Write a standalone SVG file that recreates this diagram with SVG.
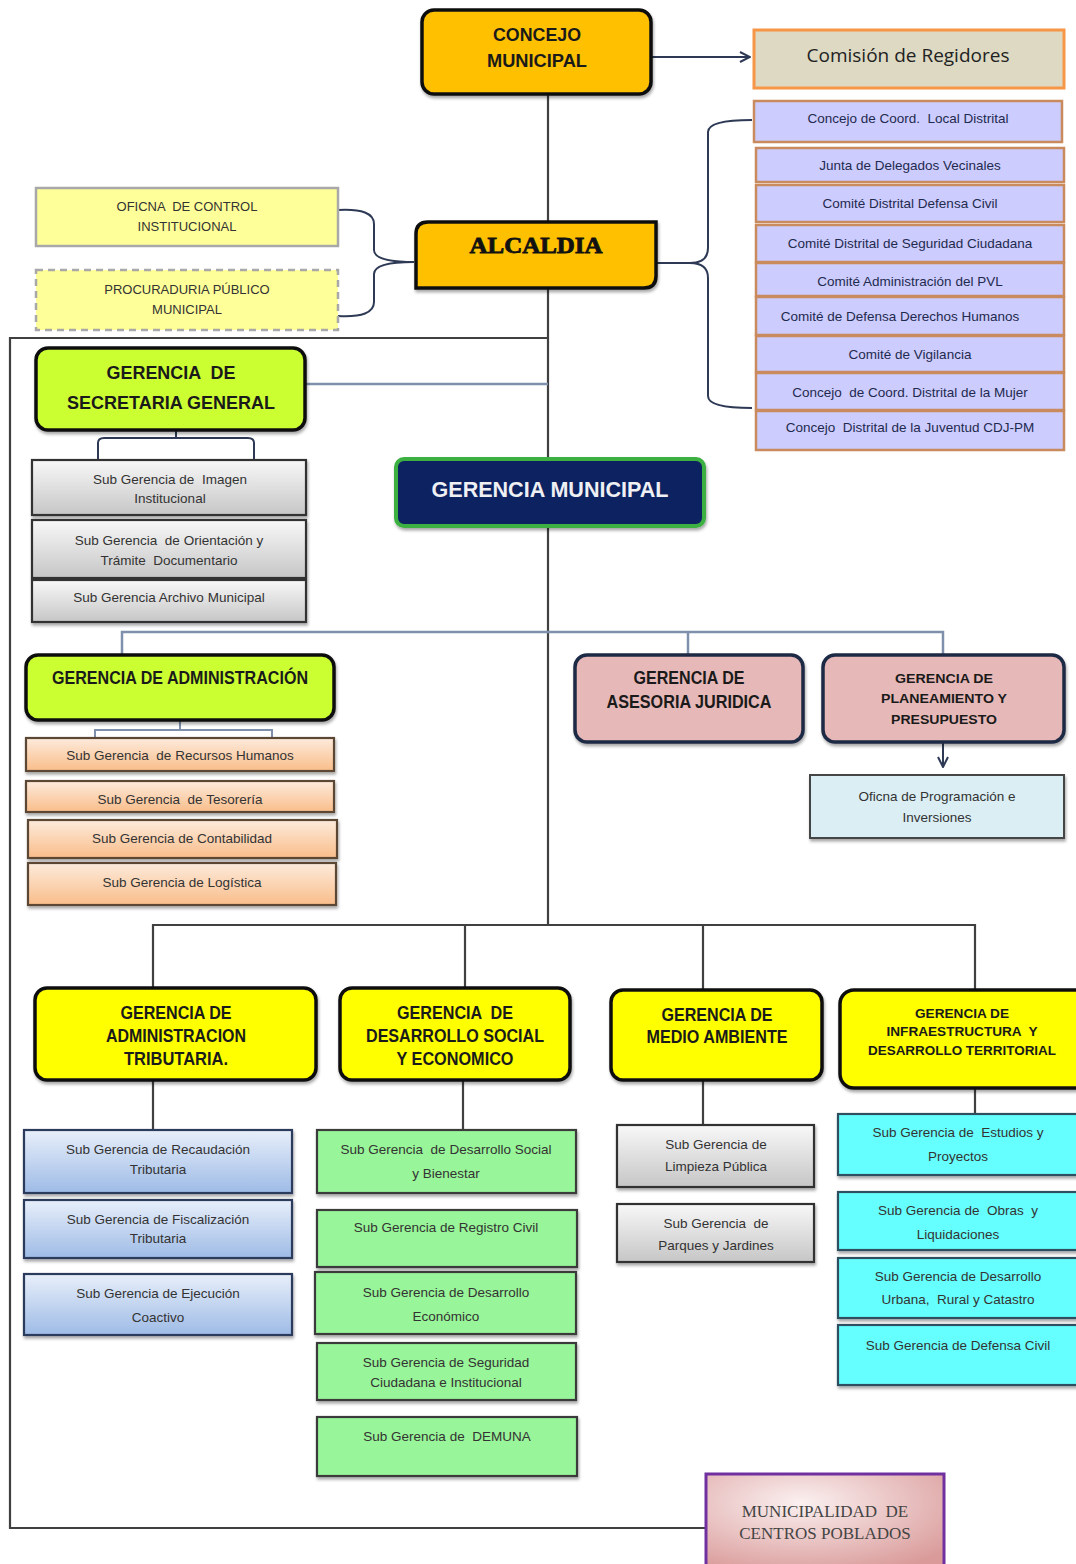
<svg xmlns="http://www.w3.org/2000/svg" width="1076" height="1564" viewBox="0 0 1076 1564">
<defs>
<style>
text{font-family:"Liberation Sans",Arial,sans-serif;text-anchor:middle;dominant-baseline:middle;white-space:pre}
.hb{font-weight:bold;font-size:19px;fill:#1a1a1a}
.hs{font-weight:bold;font-size:13.5px;fill:#1a1a1a}
.sb{font-size:13.5px;fill:#333}
.lv{font-size:13.5px;fill:#1f2a4d}
.conn{fill:none;stroke:#404040;stroke-width:2.2}
.connb{fill:none;stroke:#7f90ad;stroke-width:2.5}
.brace{fill:none;stroke:#2e3a55;stroke-width:2}
.gold{fill:#FFC000;stroke:#111;stroke-width:3.5}
.lime{fill:#CCFF33;stroke:#111;stroke-width:3.5}
.yel{fill:#FFFF00;stroke:#111;stroke-width:3.5}
.pink{fill:#E6B8B7;stroke:#1f2a44;stroke-width:3.5}
.lav{fill:#CCCCFF;stroke:#C98A5E;stroke-width:2.5}
.gray{fill:url(#gGray);stroke:#333;stroke-width:2.2}
.orng{fill:url(#gOrange);stroke:#5b4636;stroke-width:2.2}
.blue{fill:url(#gBlue);stroke:#2a3b5c;stroke-width:2.2}
.grn{fill:#99F599;stroke:#3a3a3a;stroke-width:2.2}
.cyan{fill:#66FFFF;stroke:#2f4f5f;stroke-width:2.2}
.lyel{fill:#FFFF99;stroke:#a8a8a8;stroke-width:2.5}
.sh{filter:url(#shadow)}
</style>
<filter id="shadow" x="-5%" y="-10%" width="110%" height="130%"><feDropShadow dx="1" dy="2.5" stdDeviation="1.5" flood-color="#000" flood-opacity="0.35"/></filter>
<linearGradient id="gGray" x1="0" y1="0" x2="0" y2="1"><stop offset="0" stop-color="#f8f8f8"/><stop offset="1" stop-color="#c6c6c6"/></linearGradient>
<linearGradient id="gOrange" x1="0" y1="0" x2="0" y2="1"><stop offset="0" stop-color="#fdebdc"/><stop offset="1" stop-color="#f9bd8a"/></linearGradient>
<linearGradient id="gBlue" x1="0" y1="0" x2="0" y2="1"><stop offset="0" stop-color="#e8effa"/><stop offset="1" stop-color="#9ebbe6"/></linearGradient>
<radialGradient id="gPink" cx="0.4" cy="0.3" r="0.8"><stop offset="0" stop-color="#fbf0f0"/><stop offset="1" stop-color="#d99a99"/></radialGradient>
<marker id="open" viewBox="0 0 12 12" refX="11" refY="6" markerWidth="12" markerHeight="12" markerUnits="userSpaceOnUse" orient="auto"><path d="M1,1 L11,6 L1,11" fill="none" stroke="#2e3a55" stroke-width="2"/></marker>
</defs>
<rect width="1076" height="1564" fill="#fff"/>

<g id="connectors">
<path class="conn" d="M548,94 V925"/>
<path class="conn" d="M548,338 H10 V1528 H706"/>
<path class="connb" d="M305,384 H548"/>
<path class="brace" d="M651,57 H750" marker-end="url(#open)"/>
<path class="brace" d="M338,210 Q374,208 374,224 V250 Q374,262 414,262 M338,316 Q374,318 374,302 V274 Q374,262 414,262"/>
<path class="brace" d="M656,263 H690 Q708,263 708,248 V132 Q708,120 752,120 M690,263 Q708,263 708,278 V396 Q708,408 752,408"/>
<path class="brace" d="M176,430 V437 M98,460 V443 Q98,438 104,438 H248 Q254,438 254,443 V460"/>
<path class="connb" d="M122,655 V632 H943 V655 M688,632 V655"/>
<path class="brace" d="M943,742 V767" marker-end="url(#open)"/>
<path class="connb" d="M180,720 V730 M95,738 V730 H272 V738" style="stroke-width:2"/>
<path class="conn" d="M153,988 V925 H975 V990 M465,925 V988 M703,925 V990"/>
<path class="conn" d="M153,1080 V1130 M463,1080 V1130 M703,1080 V1125 M975,1088 V1114"/>
</g>

<g id="concejo"><rect class="gold sh" x="422" y="10" width="229" height="84" rx="12"/><text class="hb" x="537" y="36" textLength="88" lengthAdjust="spacingAndGlyphs">CONCEJO</text><text class="hb" x="537" y="62" textLength="100" lengthAdjust="spacingAndGlyphs">MUNICIPAL</text></g>
<g id="comision"><rect x="754" y="30" width="310" height="58" fill="#DDD9C3" stroke="#F79646" stroke-width="3"/><text x="908" y="57" style="font-family:'Open Sans','Liberation Sans',sans-serif;font-size:19px;fill:#222">Comisión de Regidores</text></g>

<g id="alcaldia"><path class="gold sh" d="M428,222 H656 V276 Q656,288 644,288 H416 V234 Q416,222 428,222 Z"/><text x="536" y="248" textLength="133" lengthAdjust="spacingAndGlyphs" style="font-family:'Liberation Serif',serif;font-weight:900;font-size:23px;fill:#111;stroke:#111;stroke-width:0.8">ALCALDIA</text></g>
<g id="oci"><rect class="lyel" x="36" y="188" width="302" height="58"/><text class="sb" x="187" y="208" style="font-size:13px">OFICNA  DE CONTROL</text><text class="sb" x="187" y="228" style="font-size:13px">INSTITUCIONAL</text></g>
<g id="procuraduria"><rect class="lyel" x="36" y="270" width="302" height="60" style="stroke-dasharray:7 5"/><text class="sb" x="187" y="291" style="font-size:13px">PROCURADURIA PÚBLICO</text><text class="sb" x="187" y="311" style="font-size:13px">MUNICIPAL</text></g>

<g id="comites">
<g id="c1"><rect class="lav" x="754" y="101" width="308" height="41"/><text class="lv" x="908" y="119">Concejo de Coord.  Local Distrital</text></g>
<g id="c2"><rect class="lav" x="756" y="148" width="308" height="34"/><text class="lv" x="910" y="166">Junta de Delegados Vecinales</text></g>
<g id="c3"><rect class="lav" x="756" y="185" width="308" height="37"/><text class="lv" x="910" y="204">Comité Distrital Defensa Civil</text></g>
<g id="c4"><rect class="lav" x="756" y="225" width="308" height="37"/><text class="lv" x="910" y="244">Comité Distrital de Seguridad Ciudadana</text></g>
<g id="c5"><rect class="lav" x="756" y="263" width="308" height="33"/><text class="lv" x="910" y="282">Comité Administración del PVL</text></g>
<g id="c6"><rect class="lav" x="756" y="297" width="308" height="38"/><text class="lv" x="900" y="317">Comité de Defensa Derechos Humanos</text></g>
<g id="c7"><rect class="lav" x="756" y="336" width="308" height="36"/><text class="lv" x="910" y="355">Comité de Vigilancia</text></g>
<g id="c8"><rect class="lav" x="756" y="373" width="308" height="37"/><text class="lv" x="910" y="393">Concejo  de Coord. Distrital de la Mujer</text></g>
<g id="c9"><rect class="lav" x="756" y="411" width="308" height="39"/><text class="lv" x="910" y="428">Concejo  Distrital de la Juventud CDJ-PM</text></g>
</g>

<g id="secretaria"><rect class="lime sh" x="36" y="348" width="269" height="82" rx="12"/><text class="hb" x="171" y="374" textLength="129" lengthAdjust="spacingAndGlyphs">GERENCIA  DE</text><text class="hb" x="171" y="404" textLength="208" lengthAdjust="spacingAndGlyphs">SECRETARIA GENERAL</text></g>
<g id="sg-imagen"><rect class="gray sh" x="32" y="460" width="274" height="55"/><text class="sb" x="170" y="480">Sub Gerencia de  Imagen</text><text class="sb" x="170" y="499">Institucional</text></g>
<g id="sg-orientacion"><rect class="gray sh" x="32" y="520" width="274" height="58"/><text class="sb" x="169" y="541">Sub Gerencia  de Orientación y</text><text class="sb" x="169" y="561">Trámite  Documentario</text></g>
<g id="sg-archivo"><rect class="gray sh" x="32" y="580" width="274" height="42"/><text class="sb" x="169" y="598">Sub Gerencia Archivo Municipal</text></g>

<g id="gerencia-municipal"><rect class="sh" x="396" y="459" width="308" height="67" rx="8" fill="#0D2260" stroke="#3CB043" stroke-width="4"/><text x="550" y="491" textLength="237" lengthAdjust="spacingAndGlyphs" style="font-weight:bold;font-size:22px;fill:#eef0f4">GERENCIA MUNICIPAL</text></g>

<g id="administracion"><rect class="lime sh" x="26" y="655" width="308" height="65" rx="12"/><text class="hb" x="180" y="679" textLength="256" lengthAdjust="spacingAndGlyphs">GERENCIA DE ADMINISTRACIÓN</text></g>
<g id="sg-rrhh"><rect class="orng sh" x="26" y="738" width="308" height="33"/><text class="sb" x="180" y="756">Sub Gerencia  de Recursos Humanos</text></g>
<g id="sg-tesoreria"><rect class="orng sh" x="26" y="781" width="308" height="31"/><text class="sb" x="180" y="800">Sub Gerencia  de Tesorería</text></g>
<g id="sg-contabilidad"><rect class="orng sh" x="28" y="820" width="309" height="38"/><text class="sb" x="182" y="839">Sub Gerencia de Contabilidad</text></g>
<g id="sg-logistica"><rect class="orng sh" x="28" y="863" width="308" height="42"/><text class="sb" x="182" y="883">Sub Gerencia de Logística</text></g>

<g id="asesoria"><rect class="pink sh" x="575" y="655" width="228" height="87" rx="12"/><text class="hb" x="689" y="679" textLength="111" lengthAdjust="spacingAndGlyphs">GERENCIA DE</text><text class="hb" x="689" y="703" textLength="165" lengthAdjust="spacingAndGlyphs">ASESORIA JURIDICA</text></g>
<g id="planeamiento"><rect class="pink sh" x="823" y="655" width="241" height="87" rx="12"/><text class="hs" x="944" y="679" textLength="98" lengthAdjust="spacingAndGlyphs">GERENCIA DE</text><text class="hs" x="944" y="699" textLength="126" lengthAdjust="spacingAndGlyphs">PLANEAMIENTO Y</text><text class="hs" x="944" y="720" textLength="106" lengthAdjust="spacingAndGlyphs">PRESUPUESTO</text></g>
<g id="opi"><rect class="sh" x="810" y="775" width="254" height="63" fill="#DAEEF3" stroke="#444" stroke-width="2"/><text class="sb" x="937" y="797">Oficna de Programación e</text><text class="sb" x="937" y="818">Inversiones</text></g>

<g id="tributaria"><rect class="yel sh" x="35" y="988" width="281" height="92" rx="12"/><text class="hb" x="176" y="1014" textLength="111" lengthAdjust="spacingAndGlyphs">GERENCIA DE</text><text class="hb" x="176" y="1037" textLength="140" lengthAdjust="spacingAndGlyphs">ADMINISTRACION</text><text class="hb" x="176" y="1060" textLength="104" lengthAdjust="spacingAndGlyphs">TRIBUTARIA.</text></g>
<g id="desarrollo-social"><rect class="yel sh" x="340" y="988" width="230" height="92" rx="12"/><text class="hb" x="455" y="1014" textLength="116" lengthAdjust="spacingAndGlyphs">GERENCIA  DE</text><text class="hb" x="455" y="1037" textLength="178" lengthAdjust="spacingAndGlyphs">DESARROLLO SOCIAL</text><text class="hb" x="455" y="1060" textLength="117" lengthAdjust="spacingAndGlyphs">Y ECONOMICO</text></g>
<g id="medio-ambiente"><rect class="yel sh" x="611" y="990" width="211" height="90" rx="12"/><text class="hb" x="717" y="1016" textLength="111" lengthAdjust="spacingAndGlyphs">GERENCIA DE</text><text class="hb" x="717" y="1038" textLength="141" lengthAdjust="spacingAndGlyphs">MEDIO AMBIENTE</text></g>
<g id="infraestructura"><rect class="yel sh" x="840" y="990" width="250" height="98" rx="14"/><text class="hs" x="962" y="1014" textLength="94" lengthAdjust="spacingAndGlyphs">GERENCIA DE</text><text class="hs" x="962" y="1032" textLength="151" lengthAdjust="spacingAndGlyphs">INFRAESTRUCTURA  Y</text><text class="hs" x="962" y="1051" textLength="188" lengthAdjust="spacingAndGlyphs">DESARROLLO TERRITORIAL</text></g>

<g id="sg-recaudacion"><rect class="blue sh" x="24" y="1130" width="268" height="63"/><text class="sb" x="158" y="1150">Sub Gerencia de Recaudación</text><text class="sb" x="158" y="1170">Tributaria</text></g>
<g id="sg-fiscalizacion"><rect class="blue sh" x="24" y="1200" width="268" height="58"/><text class="sb" x="158" y="1220">Sub Gerencia de Fiscalización</text><text class="sb" x="158" y="1239">Tributaria</text></g>
<g id="sg-ejecucion"><rect class="blue sh" x="24" y="1274" width="268" height="61"/><text class="sb" x="158" y="1294">Sub Gerencia de Ejecución</text><text class="sb" x="158" y="1318">Coactivo</text></g>

<g id="sg-social"><rect class="grn sh" x="317" y="1130" width="259" height="63"/><text class="sb" x="446" y="1150">Sub Gerencia  de Desarrollo Social</text><text class="sb" x="446" y="1174">y Bienestar</text></g>
<g id="sg-registro"><rect class="grn sh" x="317" y="1210" width="260" height="57"/><text class="sb" x="446" y="1228">Sub Gerencia de Registro Civil</text></g>
<g id="sg-economico"><rect class="grn sh" x="315" y="1272" width="261" height="62"/><text class="sb" x="446" y="1293">Sub Gerencia de Desarrollo</text><text class="sb" x="446" y="1317">Económico</text></g>
<g id="sg-seguridad"><rect class="grn sh" x="317" y="1343" width="259" height="57"/><text class="sb" x="446" y="1363">Sub Gerencia de Seguridad</text><text class="sb" x="446" y="1383">Ciudadana e Institucional</text></g>
<g id="sg-demuna"><rect class="grn sh" x="317" y="1417" width="260" height="59"/><text class="sb" x="447" y="1437">Sub Gerencia de  DEMUNA</text></g>

<g id="sg-limpieza"><rect class="gray sh" x="617" y="1125" width="197" height="62"/><text class="sb" x="716" y="1145">Sub Gerencia de</text><text class="sb" x="716" y="1167">Limpieza Pública</text></g>
<g id="sg-parques"><rect class="gray sh" x="617" y="1204" width="197" height="58"/><text class="sb" x="716" y="1224">Sub Gerencia  de</text><text class="sb" x="716" y="1246">Parques y Jardines</text></g>

<g id="sg-estudios"><rect class="cyan sh" x="838" y="1114" width="245" height="61"/><text class="sb" x="958" y="1133">Sub Gerencia de  Estudios y</text><text class="sb" x="958" y="1157">Proyectos</text></g>
<g id="sg-obras"><rect class="cyan sh" x="838" y="1192" width="245" height="58"/><text class="sb" x="958" y="1211">Sub Gerencia de  Obras  y</text><text class="sb" x="958" y="1235">Liquidaciones</text></g>
<g id="sg-urbano"><rect class="cyan sh" x="838" y="1258" width="245" height="60"/><text class="sb" x="958" y="1277">Sub Gerencia de Desarrollo</text><text class="sb" x="958" y="1300">Urbana,  Rural y Catastro</text></g>
<g id="sg-defensa"><rect class="cyan sh" x="838" y="1325" width="245" height="60"/><text class="sb" x="958" y="1346">Sub Gerencia de Defensa Civil</text></g>

<g id="centros-poblados"><rect x="706" y="1474" width="238" height="95" fill="url(#gPink)" stroke="#7030A0" stroke-width="3"/><text x="825" y="1513" style="font-family:'Liberation Serif',serif;font-size:17px;fill:#444">MUNICIPALIDAD  DE</text><text x="825" y="1535" style="font-family:'Liberation Serif',serif;font-size:17px;fill:#444">CENTROS POBLADOS</text></g>
</svg>
